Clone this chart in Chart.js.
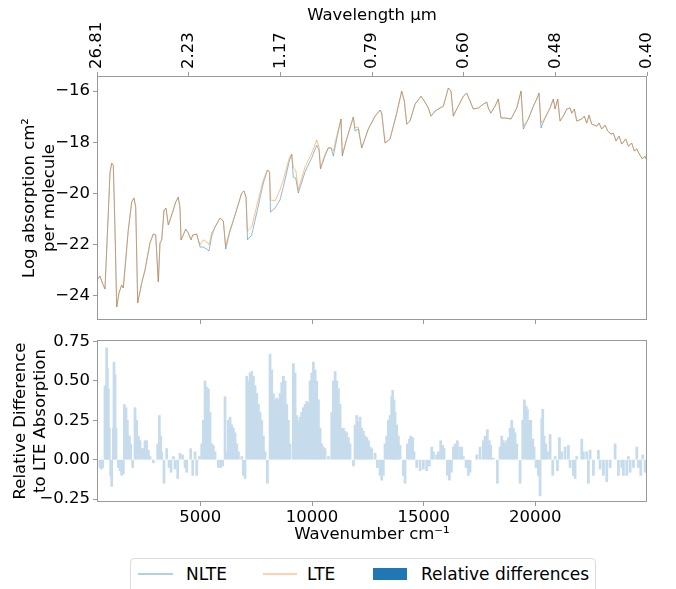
<!DOCTYPE html>
<html>
<head>
<meta charset="utf-8">
<script src="https://cdn.jsdelivr.net/npm/chart.js@4.4.0/dist/chart.umd.min.js"></script>
<style>
  body { margin: 0; background: #fff; width: 676px; height: 589px; overflow: hidden; position: relative; font-family: "DejaVu Sans", sans-serif; }
  #top { position: absolute; left: 0; top: 0; }
  #bot { position: absolute; left: 0; top: 326px; }
  .legend { position: absolute; left: 130px; top: 558px; width: 466px; height: 40px; border: 1px solid #ddd; border-radius: 4px; box-sizing: border-box; }
  .legend span { position: absolute; font-size: 17px; line-height: 20px; top: 5px; color: #000; white-space: nowrap; }
  .legend i { position: absolute; display: block; }
</style>
</head>
<body>
<canvas id="top" width="676" height="334"></canvas>
<canvas id="bot" width="676" height="219"></canvas>
<div class="legend">
  <i style="left:7px;top:14px;width:35px;height:1.5px;background:rgba(31,119,180,0.35)"></i><span style="left:55px">NLTE</span>
  <i style="left:132px;top:14px;width:34px;height:1.5px;background:rgba(255,127,14,0.35)"></i><span style="left:176px">LTE</span>
  <i style="left:242px;top:9px;width:34px;height:12px;background:#1f77b4"></i><span style="left:290px">Relative differences</span>
</div>
<script>
// wavenumber grid (cm-1) of the spectrum
var wavenumber = [380, 507, 610, 731, 879, 955, 1031, 1103, 1179, 1255,
  1358, 1479, 1551, 1775, 1927, 2030, 2106, 2196, 2375, 2522,
  2746, 2894, 3002, 3118, 3194, 3270, 3376, 3463, 3566, 3687,
  3790, 3897, 4014, 4090, 4135, 4237, 4345, 4461, 4582, 4658,
  4837, 4985, 5133, 5285, 5388, 5509, 5657, 5881, 6029, 6136,
  6297, 6553, 6853, 6956, 7045, 7112, 7300, 7524, 7820, 8008,
  8098, 8142, 8344, 8568, 8716, 8984, 9092, 9163, 9271, 9387,
  9687, 9987, 10211, 10314, 10381, 10583, 10730, 10851, 10954, 11107,
  11299, 11357, 11554, 11850, 11926, 12074, 12226, 12522, 12822, 13046,
  13122, 13270, 13494, 13793, 14017, 14134, 14241, 14389, 14613, 14882,
  15061, 15209, 15330, 15509, 15733, 15881, 16104, 16225, 16328, 16480,
  16776, 16928, 17076, 17223, 17447, 17671, 17824, 17895, 18003, 18195,
  18343, 18464, 18643, 18912, 19167, 19360, 19463, 19687, 19911, 20063,
  20166, 20255, 20434, 20658, 20806, 20882, 21003, 21106, 21254, 21406,
  21554, 21630, 21747, 21854, 22078, 22194, 22302, 22405, 22526, 22750,
  22853, 22974, 23121, 23242, 23390, 23493, 23614, 23748, 23869, 24048,
  24165, 24317, 24433, 24541, 24657, 24792, 24913, 25000];

// log absorption, NLTE
var nlte = [-23.38, -23.22, -23.49, -23.73, -20.76, -19.20, -18.81, -18.89, -21.42, -24.43,
  -23.88, -23.57, -23.69, -21.42, -20.33, -20.18, -20.53, -24.27, -23.49, -22.99,
  -21.93, -21.58, -21.62, -23.45, -21.93, -21.81, -20.64, -20.57, -21.23, -20.92,
  -20.64, -20.33, -20.14, -20.57, -21.81, -21.62, -21.39, -21.54, -21.81, -21.62,
  -21.58, -22.09, -22.09, -22.17, -22.24, -21.66, -21.31, -20.96, -21.07, -22.17,
  -21.58, -20.84, -19.98, -19.90, -20.14, -21.81, -21.62, -20.76, -19.59, -19.08,
  -19.16, -20.72, -20.57, -20.25, -19.75, -18.73, -18.46, -19.36, -19.40, -19.98,
  -19.16, -18.61, -18.11, -18.30, -19.04, -18.54, -18.22, -18.22, -18.54, -17.87,
  -17.09, -18.54, -17.87, -17.01, -17.56, -17.48, -18.22, -17.48, -16.98, -16.74,
  -16.86, -18.03, -17.87, -16.86, -16.00, -16.39, -17.29, -17.17, -16.51, -16.20,
  -16.43, -16.66, -16.98, -16.78, -16.66, -16.59, -15.88, -16.00, -16.98, -16.70,
  -16.20, -16.08, -16.39, -16.70, -16.66, -16.51, -16.43, -16.66, -16.86, -16.59,
  -16.31, -17.05, -17.05, -17.09, -16.66, -16.00, -17.48, -17.09, -16.59, -16.31,
  -16.08, -17.44, -17.05, -16.66, -16.31, -16.70, -16.31, -17.17, -16.98, -16.70,
  -16.66, -16.86, -16.70, -17.17, -17.09, -16.98, -17.25, -16.94, -17.29, -17.37,
  -17.25, -17.48, -17.33, -17.56, -17.68, -17.64, -17.95, -17.76, -18.07, -17.87,
  -18.15, -18.03, -18.34, -18.26, -18.46, -18.65, -18.54, -18.73];

// log absorption, LTE
var lte = [-23.38, -23.22, -23.49, -23.73, -20.76, -19.20, -18.81, -18.89, -21.42, -24.43,
  -23.88, -23.57, -23.69, -21.42, -20.33, -20.18, -20.53, -24.27, -23.49, -22.99,
  -21.93, -21.58, -21.62, -23.45, -21.93, -21.81, -20.64, -20.57, -21.23, -20.92,
  -20.64, -20.33, -20.14, -20.57, -21.81, -21.62, -21.39, -21.54, -21.81, -21.62,
  -21.58, -22.01, -21.81, -21.89, -22.01, -21.54, -21.31, -20.96, -21.07, -22.05,
  -21.50, -20.84, -19.98, -19.90, -20.14, -21.46, -21.31, -20.49, -19.47, -19.08,
  -19.16, -20.25, -20.29, -19.86, -19.47, -18.61, -18.46, -19.00, -19.08, -19.86,
  -18.97, -18.42, -17.91, -18.19, -19.00, -18.46, -18.22, -18.22, -18.34, -17.76,
  -17.09, -18.46, -17.87, -17.01, -17.44, -17.40, -18.22, -17.48, -16.98, -16.74,
  -16.86, -18.03, -17.87, -16.86, -16.00, -16.39, -17.29, -17.17, -16.51, -16.20,
  -16.43, -16.66, -16.98, -16.78, -16.66, -16.59, -15.88, -16.00, -16.98, -16.70,
  -16.20, -16.08, -16.39, -16.70, -16.66, -16.51, -16.43, -16.66, -16.86, -16.59,
  -16.31, -17.05, -17.05, -17.09, -16.66, -16.00, -17.37, -17.09, -16.59, -16.31,
  -16.08, -17.25, -17.05, -16.66, -16.31, -16.70, -16.31, -17.17, -16.98, -16.70,
  -16.66, -16.86, -16.70, -17.17, -17.09, -16.98, -17.25, -16.94, -17.29, -17.37,
  -17.25, -17.48, -17.33, -17.56, -17.68, -17.64, -17.95, -17.76, -18.07, -17.87,
  -18.15, -18.03, -18.34, -18.26, -18.46, -18.65, -18.54, -18.73];

// relative difference bars
var diffX = [508, 567, 627, 732, 806, 836, 881, 926, 985, 1030, 1105, 1135, 1180, 1225,
  1329, 1404, 1478, 1553, 1598, 1672, 1732, 1822, 1881, 1971, 2076, 2150, 2225, 2300,
  2374, 2449, 2523, 2598, 2673, 2747, 2897, 3091, 3165, 3225, 3270, 3374, 3494, 3598,
  3688, 3793, 3867, 3987, 4091, 4211, 4315, 4390, 4569, 4659, 4763, 4838, 4957, 5062,
  5136, 5211, 5286, 5360, 5435, 5509, 5584, 5659, 5808, 5913, 6002, 6107, 6181, 6256,
  6331, 6405, 6480, 6555, 6629, 6704, 6853, 6928, 7002, 7077, 7152, 7226, 7301, 7376,
  7450, 7525, 7600, 7674, 7749, 7824, 7898, 8003, 8122, 8197, 8272, 8346, 8421, 8495,
  8570, 8645, 8719, 8794, 8869, 8943, 9018, 9167, 9242, 9317, 9391, 9466, 9541, 9615,
  9690, 9765, 9839, 9914, 9988, 10063, 10138, 10212, 10287, 10362, 10436, 10511, 10586,
  10735, 10884, 10959, 11034, 11108, 11183, 11258, 11332, 11407, 11482, 11556, 11631,
  11705, 11855, 11929, 12004, 12079, 12153, 12228, 12303, 12377, 12452, 12527, 12601,
  12676, 12825, 12926, 13046, 13121, 13195, 13270, 13345, 13419, 13494, 13568, 13613,
  13673, 13718, 13792, 13867, 13942, 14091, 14166, 14270, 14360, 14420, 14509, 14569,
  14688, 14838, 14987, 15136, 15256, 15360, 15435, 15584, 15659, 15763, 15853, 15912,
  16062, 16151, 16241, 16331, 16405, 16510, 16629, 16704, 16778, 16898, 17002, 17077,
  17376, 17525, 17674, 17749, 17853, 17943, 18003, 18122, 18301, 18421, 18495, 18570,
  18645, 18719, 18794, 18869, 18943, 19018, 19092, 19167, 19317, 19436, 19511, 19585,
  19645, 19735, 19794, 19884, 19944, 20033, 20138, 20212, 20287, 20332, 20391, 20466,
  20541, 20660, 20780, 20884, 20989, 21078, 21183, 21332, 21481, 21556, 21705, 21780,
  21855, 22079, 22153, 22303, 22377, 22452, 22601, 22825, 22900, 23049, 23198, 23348,
  23572, 23721, 23870, 23945, 24094, 24169, 24244, 24393, 24542, 24617, 24722, 24811,
  24916, 24991];
var diffY = [-0.05, -0.06, -0.05, 0.47, 0.71, 0.58, 0.45, 0.2, -0.1, -0.17, 0.2, 0.62, 0.54, 0.2,
  -0.05, -0.07, -0.1, -0.09, 0.35, 0.33, 0.25, 0.15, 0.1, -0.05, 0.33, 0.25, 0.15, 0.12,
  0.07, 0.07, 0.12, 0.12, 0.06, 0.02, -0.02, 0.1, 0.28, 0.15, 0.05, -0.15, 0.07, -0.05,
  -0.08, 0.02, -0.06, -0.12, 0.04, 0.03, -0.05, -0.08, 0.07, -0.1, 0.05, -0.1, 0.02, 0.1,
  0.25, 0.5, 0.46, 0.45, 0.3, 0.1, 0.09, 0.05, -0.05, -0.05, -0.04, 0.4, 0.05, 0.25,
  0.27, 0.22, 0.2, 0.17, 0.1, 0.05, 0.02, -0.1, -0.12, 0.53, 0.5, 0.55, 0.56, 0.53,
  0.47, 0.42, 0.35, 0.3, 0.25, 0.15, 0.05, -0.15, 0.67, 0.57, 0.42, 0.38, 0.39, 0.38,
  0.42, 0.49, 0.53, 0.5, 0.35, 0.25, 0.1, 0.61, 0.55, 0.28, 0.25, 0.27, 0.3, 0.33,
  0.35, 0.37, 0.36, 0.5, 0.55, 0.62, 0.57, 0.5, 0.38, 0.2, 0.1, 0.08, 0.07,
  0.02, 0.3, 0.5, 0.56, 0.5, 0.45, 0.35, 0.2, 0.2, 0.18, 0.17, 0.14,
  0.1, -0.04, 0.22, 0.28, 0.24, 0.27, 0.2, 0.18, 0.15, 0.14, 0.12, 0.08,
  0.07, 0.04, -0.05, -0.1, -0.13, -0.1, 0.1, 0.15, 0.25, 0.28, 0.4, 0.44,
  0.38, 0.3, 0.22, 0.15, 0.09, -0.1, -0.15, 0.1, 0.13, 0.15, 0.14, 0.05,
  -0.05, -0.07, -0.06, -0.07, -0.04, 0.08, 0.05, 0.03, 0.05, 0.12, 0.09, 0.07,
  -0.1, -0.13, -0.08, 0.08, 0.1, 0.12, 0.08, 0.08, 0.02, -0.05, -0.1, -0.08,
  0.03, 0.08, 0.12, 0.15, 0.19, 0.12, 0.09, 0.01, -0.15, 0.08, 0.15, 0.12,
  0.1, 0.12, 0.14, 0.2, 0.25, 0.2, 0.17, 0.1, -0.15, 0.25, 0.38, 0.34,
  0.32, 0.25, 0.25, 0.13, 0.08, -0.05, -0.1, -0.23, 0.26, 0.32, 0.15, 0.1,
  0.05, 0.16, -0.1, 0.02, -0.07, 0.14, 0.05, 0.08, 0.09, -0.05, -0.1, -0.12,
  0.02, 0.13, 0.05, 0.05, -0.15, 0.06, -0.1, 0.06, -0.06, -0.1, -0.14, -0.05,
  0.1, -0.1, -0.05, -0.1, -0.1, 0.02, -0.08, -0.05, 0.08, -0.05, -0.1, 0.03,
  -0.08, -0.05];

// ticks
var wavelengthTickPos = [373, 4478, 8582, 12687, 16791, 20896, 25000];
var wavenumberTicks = [5000, 10000, 15000, 20000];
var logTicks = [-16, -18, -20, -22, -24];
var diffTicks = [0.75, 0.5, 0.25, 0, -0.25];

Chart.defaults.font.family = "'DejaVu Sans', sans-serif";
Chart.defaults.font.size = 16.5;
Chart.defaults.color = '#000';

var frame = {
  id: 'frame',
  afterDatasetsDraw: function (chart) {
    var a = chart.chartArea, ctx = chart.ctx;
    ctx.save();
    ctx.strokeStyle = '#999';
    ctx.lineWidth = 1;
    ctx.strokeRect(Math.round(a.left) + 0.5, Math.round(a.top) + 0.5, Math.round(a.right - a.left) - 1, Math.round(a.bottom - a.top) - 1);
    ctx.restore();
  }
};

function minus(s) { return s.replace('-', '\u2212'); }
var tickGrid = { drawOnChartArea: false, color: '#999', tickLength: 4 };

var xy = function (xs, ys) { return xs.map(function (x, i) { return { x: x, y: ys[i] }; }); };

// grafico 1 - absorption spectrum
var graf1 = new Chart(document.getElementById('top'), {
  type: 'line',
  data: {
    datasets: [{
      label: 'NLTE',
      data: xy(wavenumber, nlte),
      borderColor: 'rgba(31,119,180,0.5)',
      borderWidth: 1,
      pointRadius: 0,
      fill: false,
      order: 2
    }, {
      label: 'LTE',
      data: xy(wavenumber, lte),
      borderColor: 'rgba(255,127,14,0.5)',
      borderWidth: 1,
      pointRadius: 0,
      fill: false,
      order: 1
    }]
  },
  options: {
    responsive: false,
    animation: false,
    devicePixelRatio: 1,
    layout: { padding: { left: 0, right: 29, top: 0, bottom: 0 } },
    plugins: { legend: { display: false }, tooltip: { enabled: false } },
    scales: {
      x: {
        type: 'linear', position: 'bottom', min: 373, max: 25000,
        afterBuildTicks: function (ax) { ax.ticks = wavenumberTicks.map(function (v) { return { value: v }; }); },
        ticks: { display: false },
        grid: tickGrid, border: { display: false },
        afterFit: function (ax) { ax.height = 14; }
      },
      x2: {
        type: 'linear', position: 'top', min: 373, max: 25000,
        afterBuildTicks: function (ax) { ax.ticks = wavelengthTickPos.map(function (v) { return { value: v }; }); },
        ticks: { minRotation: 90, maxRotation: 90, autoSkip: false, padding: 3, labelOffset: 20,
          callback: function (v) { return (10000 / v).toFixed(2); } },
        grid: tickGrid, border: { display: false },
        title: { display: true, text: 'Wavelength \u00b5m', padding: { top: 6, bottom: 0 } },
        afterFit: function (ax) { ax.height = 76; }
      },
      y: {
        min: -24.94, max: -15.41,
        afterBuildTicks: function (ax) { ax.ticks = logTicks.map(function (v) { return { value: v }; }); },
        ticks: { padding: 3, callback: function (v) { return minus(String(v)); } },
        grid: tickGrid, border: { display: false },
        title: { display: true, text: ['Log absorption cm\u00b2', 'per molecule'], padding: { top: 20, bottom: 4 } },
        afterFit: function (ax) { ax.width = 97; }
      }
    }
  },
  plugins: [frame]
});

// grafico 2 - relative differences
var graf2 = new Chart(document.getElementById('bot'), {
  type: 'bar',
  data: {
    datasets: [{
      label: 'Relative differences',
      data: xy(diffX, diffY),
      backgroundColor: '#c6dcec',
      borderWidth: 0,
      barThickness: 2.1
    }]
  },
  options: {
    responsive: false,
    animation: false,
    devicePixelRatio: 1,
    layout: { padding: { left: 0, right: 29, top: 14, bottom: 0 } },
    plugins: { legend: { display: false }, tooltip: { enabled: false } },
    scales: {
      x: {
        type: 'linear', min: 373, max: 25000, offset: false,
        afterBuildTicks: function (ax) { ax.ticks = wavenumberTicks.map(function (v) { return { value: v }; }); },
        ticks: { padding: 2, maxRotation: 0, callback: function (v) { return String(v); } },
        grid: { drawOnChartArea: false, color: '#999', tickLength: 4, offset: false }, border: { display: false },
        title: { display: true, text: 'Wavenumber cm\u207b\u00b9', padding: { top: 0, bottom: 0 } },
        afterFit: function (ax) { ax.height = 43; }
      },
      y: {
        min: -0.269, max: 0.76,
        afterBuildTicks: function (ax) { ax.ticks = diffTicks.map(function (v) { return { value: v }; }); },
        ticks: { padding: 3, callback: function (v) { return minus(v.toFixed(2)); } },
        grid: tickGrid, border: { display: false },
        title: { display: true, text: ['Relative Difference', 'to LTE Absorption'], padding: { top: 11, bottom: 4 } },
        afterFit: function (ax) { ax.width = 97; }
      }
    }
  },
  plugins: [frame]
});
</script>
</body>
</html>
